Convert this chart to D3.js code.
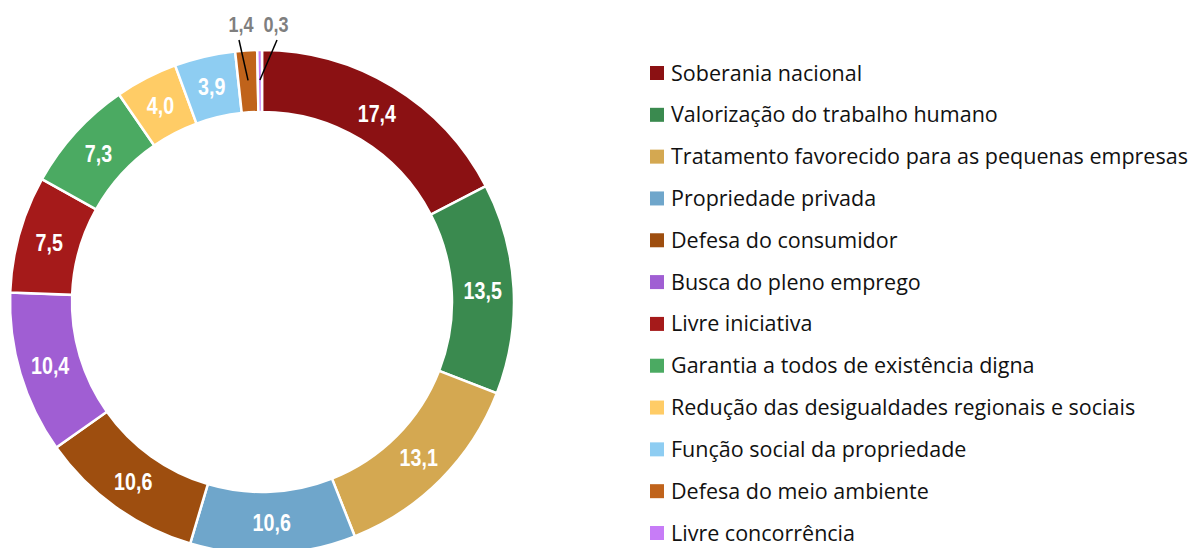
<!DOCTYPE html>
<html>
<head>
<meta charset="utf-8">
<script src="https://cdn.jsdelivr.net/npm/d3@7"></script>
<style>
  body { margin: 0; background: #fff; }
  svg { display: block; }
</style>
</head>
<body>
<svg id="chart" width="1197" height="548"></svg>
<script>
// data (percent)
var categories = [
    'Soberania nacional',
    'Valorização do trabalho humano',
    'Tratamento favorecido para as pequenas empresas',
    'Propriedade privada',
    'Defesa do consumidor',
    'Busca do pleno emprego',
    'Livre iniciativa',
    'Garantia a todos de existência digna',
    'Redução das desigualdades regionais e sociais',
    'Função social da propriedade',
    'Defesa do meio ambiente',
    'Livre concorrência'
];
var values = [17.4, 13.5, 13.1, 10.6, 10.6, 10.4, 7.5, 7.3, 4.0, 3.9, 1.4, 0.3];
var colors = ['#8b1113', '#3a8a4f', '#d4a851', '#6fa6cb', '#9e4e0f', '#a05ed3',
              '#a51a1a', '#4baa62', '#ffcc66', '#8ecdf2', '#c0631b', '#c77cf7'];

var svg = d3.select('#chart');

var cx = 262, cy = 302, outerR = 252, innerR = 190;
var narrow = 0.82;   // fake "Arial Narrow" by squeezing Liberation Sans

/*
 * Donut
 */
var pie = d3.pie().sort(null).value(function(d) { return d; });
var arcs = pie(values);
var arc = d3.arc().innerRadius(innerR).outerRadius(outerR);

var g = svg.append('g').attr('transform', 'translate(' + cx + ',' + cy + ')');

g.selectAll('path.slice')
    .data(arcs)
    .enter()
    .append('path')
        .attr('class', 'slice')
        .attr('d', arc)
        .attr('fill', function(d, i) { return colors[i]; })
        .attr('stroke', '#fff')
        .attr('stroke-width', 2.5);

var fmt = function(v) { return v.toFixed(1).replace('.', ','); };

// big slices get a white label on the ring
g.selectAll('text.val')
    .data(arcs.filter(function(d) { return d.value >= 2; }))
    .enter()
    .append('text')
        .attr('class', 'val')
        .attr('transform', function(d) {
            var c = arc.centroid(d);
            return 'translate(' + c[0] + ',' + c[1] + ') scale(' + narrow + ',1)';
        })
        .attr('dy', '0.36em')
        .attr('text-anchor', 'middle')
        .attr('fill', '#fff')
        .style('font-family', '"Liberation Sans", Arial, sans-serif')
        .style('font-weight', 'bold')
        .style('font-size', '24px')
        .text(function(d) { return fmt(d.value); });

// small slices: gray label above, with a leader line
var small = arcs.filter(function(d) { return d.value < 2; });
var labelX = [-21, 14];
small.forEach(function(d, k) {
    var a = (d.startAngle + d.endAngle) / 2;
    var r0 = outerR - 30;
    var px = Math.sin(a) * r0, py = -Math.cos(a) * r0;
    var tx = labelX[k];
    g.append('line')
        .attr('x1', px).attr('y1', py)
        .attr('x2', tx + (k == 0 ? -2 : 1)).attr('y2', -outerR - 10)
        .attr('stroke', '#000')
        .attr('stroke-width', 1.5);
    g.append('text')
        .attr('transform', 'translate(' + tx + ',' + (-outerR - 18) + ') scale(' + narrow + ',1)')
        .attr('text-anchor', 'middle')
        .attr('fill', '#7f7f7f')
        .style('font-family', '"Liberation Sans", Arial, sans-serif')
        .style('font-weight', 'bold')
        .style('font-size', '22px')
        .text(fmt(d.value));
});

/*
 * Legend
 */
var legendY = d3.scalePoint()
    .domain(categories)
    .range([73, 533]);

var legend = svg.append('g');
var item = legend.selectAll('g.item')
    .data(categories)
    .enter()
    .append('g')
        .attr('class', 'item')
        .attr('transform', function(d) { return 'translate(650,' + legendY(d) + ')'; });

item.append('rect')
    .attr('x', 0).attr('y', -7)
    .attr('width', 14).attr('height', 14)
    .attr('fill', function(d, i) { return colors[i]; });

item.append('text')
    .attr('x', 21)
    .attr('dy', '0.35em')
    .attr('fill', '#111')
    .style('font-family', '"Open Sans", sans-serif')
    .style('font-size', '21.5px')
    .text(function(d) { return d; });
</script>
</body>
</html>
